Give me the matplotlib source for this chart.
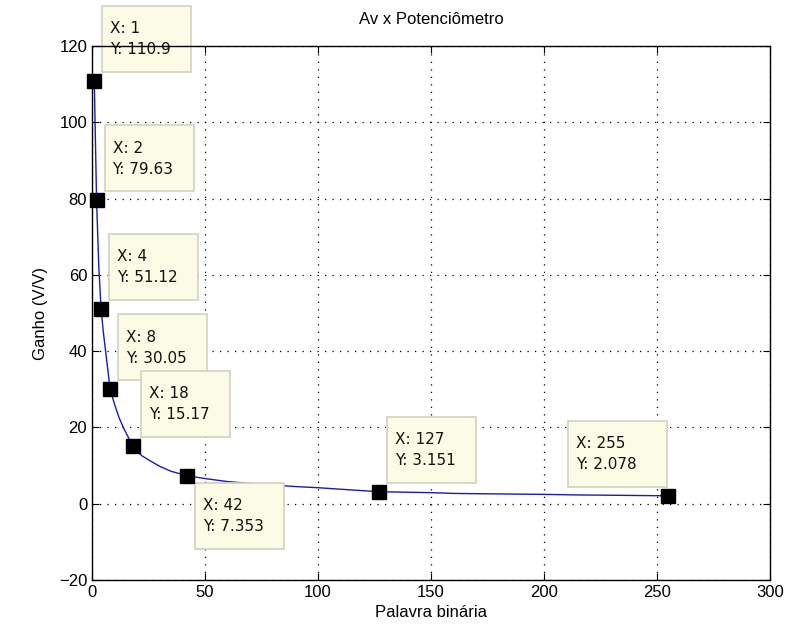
import numpy as np
import matplotlib
matplotlib.use('Agg')
import matplotlib.pyplot as plt
import matplotlib.transforms as mtransforms
from matplotlib.patches import Rectangle

# curva (palavra binaria x ganho)
palavra = [1, 2, 3, 4, 5, 6, 8, 10, 12, 14, 18, 22, 25, 30, 35, 42, 50, 60,
           75, 90, 100, 110, 127, 150, 160, 175, 200, 215, 225, 255]
ganho = [110.9, 79.63, 62.0, 51.12, 45.0, 40.0, 30.05, 26.0, 22.5, 19.8,
         15.17, 12.6, 11.5, 9.8, 8.5, 7.353, 6.6, 5.8, 5.1, 4.5, 4.2, 3.8,
         3.151, 2.9, 2.7, 2.6, 2.45, 2.3, 2.25, 2.078]

# datatips
tip_x = [1, 2, 4, 8, 18, 42, 127, 255]
tip_y = [110.9, 79.63, 51.12, 30.05, 15.17, 7.353, 3.151, 2.078]
tip_lbl_y = ['110.9', '79.63', '51.12', '30.05', '15.17', '7.353', '3.151', '2.078']

plt.rcParams['font.family'] = ['Liberation Sans', 'DejaVu Sans']

fig = plt.figure(figsize=(7.9, 6.44), dpi=100)
ax = fig.add_axes([0.1165, 0.0994, 0.858, 0.829])

ax.plot(palavra, ganho, color='#1c1ca8', lw=1.0, zorder=2)
ax.plot(tip_x, tip_y, ls='none', marker='s', ms=10, mfc='black', mec='black',
        zorder=4, clip_on=False)

ax.set_xlim(0, 300)
ax.set_ylim(-20, 120)
ax.set_xticks(np.arange(0, 301, 50))
ax.set_yticks(np.arange(-20, 121, 20))
ax.tick_params(direction='in', labelsize=12, length=5, top=True, right=True,
               labeltop=False, labelright=False)
ax.grid(True, color='black', ls=(0, (1, 5)), lw=0.9)
for s in ax.spines.values():
    s.set_linewidth(1.0)
    s.set_zorder(2.5)

# caixas dos datatips (offsets em pixels em relacao ao marcador)
box_h = 66
for i in range(len(tip_x)):
    if tip_x[i] == 42:
        x0, y0 = 8, -7 - box_h
    elif tip_x[i] == 255:
        x0, y0 = -100, 9
    else:
        x0, y0 = 8, 9
    w = 99 if tip_x[i] == 255 else 89
    px, py = ax.transData.transform((tip_x[i], tip_y[i]))
    tr = mtransforms.Affine2D().translate(px, py)
    rect = Rectangle((x0, y0), w, box_h, transform=tr, facecolor='#fbfbe6',
                     edgecolor='#d2d2c0', lw=1.2, zorder=2.3, clip_on=False)
    ax.add_artist(rect)
    ax.text(x0 + 8, y0 + box_h - 23, 'X: %d' % tip_x[i], transform=tr,
            ha='left', va='center', fontsize=11, family='DejaVu Sans',
            color='#111111', zorder=2.4, clip_on=False)
    ax.text(x0 + 8, y0 + box_h - 44, 'Y: %s' % tip_lbl_y[i], transform=tr,
            ha='left', va='center', fontsize=11, family='DejaVu Sans',
            color='#111111', zorder=2.4, clip_on=False)

ax.set_title('Av x Potenciômetro', fontsize=12, pad=16)
ax.set_xlabel('Palavra binária', fontsize=12, labelpad=4)
ax.set_ylabel('Ganho (V/V)', fontsize=12, labelpad=8)

fig.savefig('out.png', dpi=100)
